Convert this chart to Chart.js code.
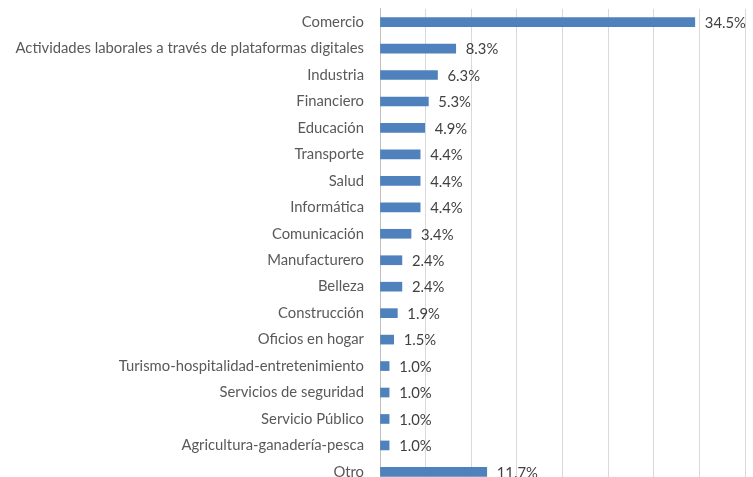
<!DOCTYPE html>
<html>
<head>
<meta charset="utf-8">
<script src="https://cdn.jsdelivr.net/npm/chart.js@4"></script>
<style>
  html, body { margin: 0; padding: 0; background: #fff; overflow: hidden; }
  #wrap { width: 753px; height: 494px; position: relative; }
</style>
</head>
<body>
<div id="wrap"><canvas id="chart"></canvas></div>
<script>
// Sectores (orden de arriba hacia abajo)
const categories = [
    'Comercio',
    'Actividades laborales a través de plataformas digitales',
    'Industria',
    'Financiero',
    'Educación',
    'Transporte',
    'Salud',
    'Informática',
    'Comunicación',
    'Manufacturero',
    'Belleza',
    'Construcción',
    'Oficios en hogar',
    'Turismo-hospitalidad-entretenimiento',
    'Servicios de seguridad',
    'Servicio Público',
    'Agricultura-ganadería-pesca',
    'Otro'
];
const values = [34.5, 8.3, 6.3, 5.3, 4.9, 4.4, 4.4, 4.4, 3.4, 2.4, 2.4, 1.9, 1.5, 1.0, 1.0, 1.0, 1.0, 11.7];
const xMax = 40;
const xStep = 5;

const FONT = 'Lato, "Open Sans", sans-serif';

// etiquetas de valor al final de cada barra
const valueLabels = {
    id: 'valueLabels',
    afterDatasetsDraw(chart) {
        const ctx = chart.ctx;
        const meta = chart.getDatasetMeta(0);
        ctx.save();
        ctx.font = '14.8px ' + FONT;
        ctx.fillStyle = '#404040';
        ctx.textAlign = 'left';
        ctx.textBaseline = 'middle';
        meta.data.forEach((bar, i) => {
            ctx.fillText(values[i].toFixed(1) + '%', bar.x + 10, bar.y + 1);
        });
        ctx.restore();
    }
};

new Chart(document.getElementById('chart'), {
    type: 'bar',
    data: {
        labels: categories,
        datasets: [{
            data: values,
            backgroundColor: '#4f81bd',
            borderWidth: 0,
            barThickness: 9
        }]
    },
    options: {
        indexAxis: 'y',
        responsive: true,
        maintainAspectRatio: false,
        animation: false,
        layout: { padding: { top: 0, right: 8, bottom: 0, left: 0 } },
        plugins: {
            legend: { display: false },
            tooltip: { enabled: false }
        },
        scales: {
            x: {
                min: 0,
                max: xMax,
                afterFit(scale) { scale.height = 0; },
                ticks: { display: false, stepSize: xStep },
                grid: { color: '#d9d9d9', drawTicks: false },
                border: { display: false }
            },
            y: {
                afterFit(scale) { scale.width = 380; },
                ticks: {
                    color: '#595959',
                    font: { family: FONT, size: 14.8 },
                    padding: 0
                },
                grid: { display: true, color: 'rgba(0,0,0,0)', drawTicks: true, tickLength: 16 },
                border: { display: true, color: '#bfbfbf' }
            }
        }
    },
    plugins: [valueLabels]
});
</script>
</body>
</html>
